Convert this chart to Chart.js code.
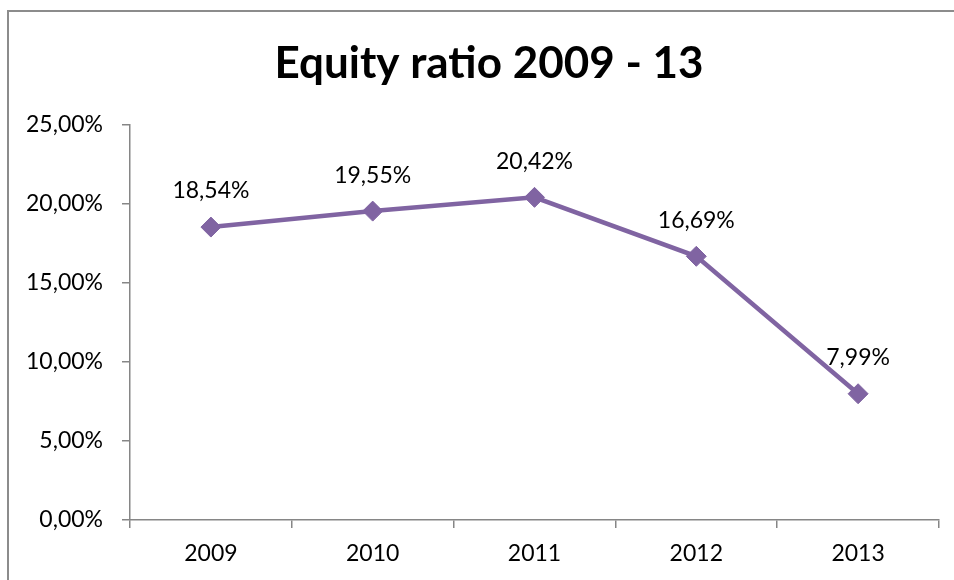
<!DOCTYPE html>
<html>
<head>
<meta charset="utf-8">
<script src="https://cdn.jsdelivr.net/npm/chart.js@4.4.1/dist/chart.umd.min.js"></script>
<style>
  html, body { margin: 0; padding: 0; background: #fff; overflow: hidden; }
  #wrap { position: relative; width: 954px; height: 580px; }
  #frame {
    position: absolute; left: 7px; top: 10px; width: 1000px; height: 700px;
    border-left: 2px solid #8c8c8c; border-top: 2px solid #8c8c8c;
    box-sizing: border-box; pointer-events: none;
  }
  canvas { position: absolute; left: 0; top: 0; }
</style>
</head>
<body>
<div id="wrap">
  <canvas id="equityChart" width="954" height="580"></canvas>
  <div id="frame"></div>
</div>
<script>
const years = ['2009', '2010', '2011', '2012', '2013'];
const equityRatio = [18.54, 19.55, 20.42, 16.69, 7.99];
const chartTitle = 'Equity ratio 2009 - 13';

const FONT = 'Lato, "Open Sans", sans-serif';
const AXIS_GREY = '#868686';
const PURPLE = '#8064A2';

const pct = v => v.toFixed(2).replace('.', ',') + '%';

// title drawn by hand so it can sit a little right of the canvas centre
const titlePlugin = {
  id: 'fixedTitle',
  afterDraw(chart) {
    const ctx = chart.ctx;
    ctx.save();
    ctx.font = 'bold 44px ' + FONT;
    ctx.fillStyle = '#000';
    ctx.textAlign = 'center';
    ctx.textBaseline = 'alphabetic';
    ctx.fillText(chartTitle, 489, 78);
    ctx.restore();
  }
};

// value labels above every point
const valueLabels = {
  id: 'valueLabels',
  afterDatasetsDraw(chart) {
    const ctx = chart.ctx;
    const meta = chart.getDatasetMeta(0);
    ctx.save();
    ctx.font = '23px ' + FONT;
    ctx.fillStyle = '#000';
    ctx.textAlign = 'center';
    ctx.textBaseline = 'middle';
    meta.data.forEach((pt, i) => {
      ctx.fillText(pct(equityRatio[i]), pt.x, pt.y - 36);
    });
    ctx.restore();
  }
};

new Chart(document.getElementById('equityChart'), {
  type: 'line',
  data: {
    labels: years,
    datasets: [{
      data: equityRatio,
      borderColor: PURPLE,
      backgroundColor: PURPLE,
      borderWidth: 4.5,
      tension: 0,
      pointStyle: 'rectRot',
      pointRadius: 10,
      pointHoverRadius: 10,
      pointBorderWidth: 1,
      pointBorderColor: PURPLE,
      pointBackgroundColor: PURPLE
    }]
  },
  options: {
    responsive: false,
    animation: false,
    events: [],
    layout: { padding: { top: 125, right: 15, bottom: 0, left: 0 } },
    plugins: {
      legend: { display: false },
      title: { display: false },
      tooltip: { enabled: false }
    },
    scales: {
      x: {
        offset: true,
        grid: {
          offset: true,
          drawOnChartArea: false,
          color: AXIS_GREY,
          lineWidth: 1.5,
          tickLength: 8
        },
        border: { color: AXIS_GREY, width: 1.5 },
        ticks: { color: '#000', font: { family: FONT, size: 23 }, padding: 12, maxRotation: 0 },
        afterFit(scale) { scale.height = 60; }
      },
      y: {
        min: 0,
        max: 25,
        grid: {
          drawOnChartArea: false,
          color: AXIS_GREY,
          lineWidth: 1.5,
          tickLength: 8
        },
        border: { color: AXIS_GREY, width: 1.5 },
        ticks: {
          stepSize: 5,
          color: '#000',
          font: { family: FONT, size: 23 },
          padding: 19,
          callback: v => pct(v)
        },
        afterFit(scale) { scale.width = 130; }
      }
    }
  },
  plugins: [titlePlugin, valueLabels]
});
</script>
</body>
</html>
